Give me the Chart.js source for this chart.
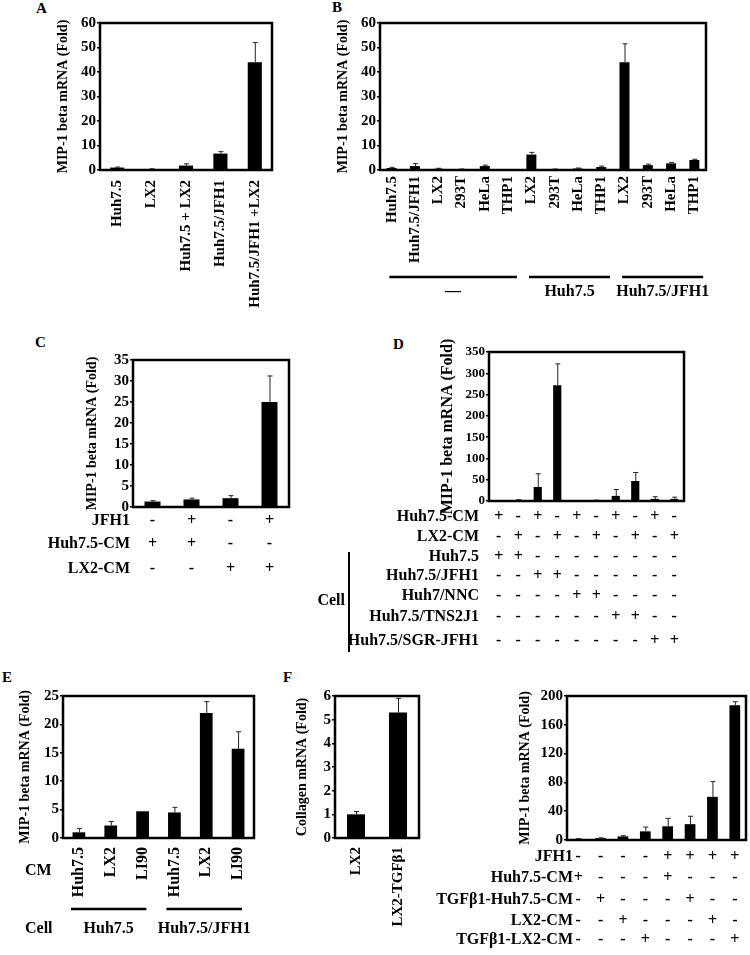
<!DOCTYPE html>
<html><head><meta charset="utf-8">
<script src="https://cdn.jsdelivr.net/npm/chart.js@4.4.1/dist/chart.umd.min.js"></script>
<style>
html,body{margin:0;padding:0;background:#fff;}
#wrap{position:relative;width:750px;height:955px;overflow:hidden;background:#fff;}
canvas{position:absolute;}
.lbl{position:absolute;font:bold 15px 'Liberation Serif','Times New Roman',serif;color:#000;line-height:1;}
</style></head><body><div id="wrap">
<div class="lbl" style="left:36px;top:1px">A</div>
<div class="lbl" style="left:332px;top:0px">B</div>
<div class="lbl" style="left:35px;top:335px">C</div>
<div class="lbl" style="left:393px;top:337px">D</div>
<div class="lbl" style="left:2px;top:670px">E</div>
<div class="lbl" style="left:283px;top:670px">F</div>
</div>
<script>
const FONT = "'Liberation Serif', 'Times New Roman', serif";

// ---------- Panel A ----------
const aCategories = ['Huh7.5', 'LX2', 'Huh7.5 + LX2', 'Huh7.5/JFH1', 'Huh7.5/JFH1 +LX2'];
const aValues = [1.0, 0.3, 1.8, 6.7, 44];
const aErrors = [0.2, 0.2, 0.7, 0.8, 8];
const aYTicks = [0, 10, 20, 30, 40, 50, 60];

// ---------- Panel B ----------
const bCategories = ['Huh7.5', 'Huh7.5/JFH1', 'LX2', '293T', 'HeLa', 'THP1',
                     'LX2', '293T', 'HeLa', 'THP1',
                     'LX2', '293T', 'HeLa', 'THP1'];
const bValues = [0.8, 1.6, 0.5, 0.3, 1.6, 0.1, 6.3, 0.3, 0.6, 1.2, 44, 2.0, 2.7, 4.1];
const bErrors = [0.3, 1.0, 0.2, 0.1, 0.4, 0.1, 0.9, 0.1, 0.2, 0.4, 7.5, 0.4, 0.3, 0.3];
const bYTicks = [0, 10, 20, 30, 40, 50, 60];
const bGroupLabels = ['—', 'Huh7.5', 'Huh7.5/JFH1'];
const bGroupStart = [0, 6, 10];
const bGroupEnd = [5, 9, 13];

// ---------- Panel C ----------
const cCategories = ['1', '2', '3', '4'];
const cValues = [1.3, 1.8, 2.1, 25];
const cErrors = [0.2, 0.3, 0.6, 6.2];
const cYTicks = [0, 5, 10, 15, 20, 25, 30, 35];
const cRows = ['JFH1', 'Huh7.5-CM', 'LX2-CM'];
const cCells = [['-', '+', '-', '+'], ['+', '+', '-', '-'], ['-', '-', '+', '+']];

// ---------- Panel D ----------
const dCategories = ['1', '2', '3', '4', '5', '6', '7', '8', '9', '10'];
const dValues = [0.8, 2, 33, 272, 0.5, 1.5, 12, 47, 5, 5];
const dErrors = [0.3, 1, 31, 50, 0.2, 0.5, 15, 20, 5, 4];
const dYTicks = [0, 50, 100, 150, 200, 250, 300, 350];
const dRows = ['Huh7.5-CM', 'LX2-CM', 'Huh7.5', 'Huh7.5/JFH1', 'Huh7/NNC', 'Huh7.5/TNS2J1', 'Huh7.5/SGR-JFH1'];
const dCells = [
  ['+', '-', '+', '-', '+', '-', '+', '-', '+', '-'],
  ['-', '+', '-', '+', '-', '+', '-', '+', '-', '+'],
  ['+', '+', '-', '-', '-', '-', '-', '-', '-', '-'],
  ['-', '-', '+', '+', '-', '-', '-', '-', '-', '-'],
  ['-', '-', '-', '-', '+', '+', '-', '-', '-', '-'],
  ['-', '-', '-', '-', '-', '-', '+', '+', '-', '-'],
  ['-', '-', '-', '-', '-', '-', '-', '-', '+', '+']
];

// ---------- Panel E ----------
const eCategories = ['Huh7.5', 'LX2', 'LI90', 'Huh7.5', 'LX2', 'LI90'];
const eValues = [1.0, 2.2, 4.7, 4.5, 22, 15.7];
const eErrors = [0.7, 0.7, 0, 0.9, 2, 3];
const eYTicks = [0, 5, 10, 15, 20, 25];
const eGroupLabels = ['Huh7.5', 'Huh7.5/JFH1'];
const eGroupStart = [0, 3];
const eGroupEnd = [2, 5];

// ---------- Panel F (left) ----------
const fCategories = ['LX2', 'LX2-TGFβ1'];
const fValues = [1.0, 5.3];
const fErrors = [0.12, 0.6];
const fYTicks = [0, 1, 2, 3, 4, 5, 6];

// ---------- Panel F (right) ----------
const gCategories = ['1', '2', '3', '4', '5', '6', '7', '8'];
const gValues = [1.5, 2.5, 5, 12, 19, 22, 60, 187];
const gErrors = [0.3, 0.5, 1, 6, 11, 11, 21, 5];
const gYTicks = [0, 40, 80, 120, 160, 200];
const gRows = ['JFH1', 'Huh7.5-CM', 'TGFβ1-Huh7.5-CM', 'LX2-CM', 'TGFβ1-LX2-CM'];
const gCells = [
  ['-', '-', '-', '-', '+', '+', '+', '+'],
  ['+', '-', '-', '-', '+', '-', '-', '-'],
  ['-', '+', '-', '-', '-', '+', '-', '-'],
  ['-', '-', '+', '-', '-', '-', '+', '-'],
  ['-', '-', '-', '+', '-', '-', '-', '+']
];

// ---------- helpers ----------
const PANELS = {};

const errorBars = {
  id: 'errorBars',
  afterDatasetsDraw(chart) {
    const p = PANELS[chart.canvas.id];
    if (!p || !p.errors) return;
    const meta = chart.getDatasetMeta(0);
    const y = chart.scales.y;
    const ctx = chart.ctx;
    ctx.save();
    ctx.strokeStyle = '#222';
    ctx.lineWidth = 1;
    meta.data.forEach((bar, i) => {
      const v = p.values[i];
      const e = p.errors[i];
      if (!e) return;
      const yTop = y.getPixelForValue(v + e);
      const yBar = y.getPixelForValue(v);
      ctx.beginPath();
      ctx.moveTo(bar.x + 0.5, yBar);
      ctx.lineTo(bar.x + 0.5, yTop);
      ctx.moveTo(bar.x + 0.5 - 2.5, yTop);
      ctx.lineTo(bar.x + 0.5 + 2.5, yTop);
      ctx.stroke();
    });
    ctx.restore();
  }
};

const frame = {
  id: 'frame',
  afterDatasetsDraw(chart) {
    const ctx = chart.ctx, a = chart.chartArea;
    ctx.save();
    ctx.lineWidth = 2.5;
    ctx.strokeStyle = '#000';
    ctx.strokeRect(a.left, a.top, a.right - a.left, a.bottom - a.top);
    ctx.restore();
  }
};

const extras = {
  id: 'extras',
  afterDraw(chart) {
    const p = PANELS[chart.canvas.id];
    if (!p || !p.extra) return;
    const ctx = chart.ctx;
    const xs = chart.scales.x;
    const col = i => xs.getPixelForValue(i) + p.x;
    const cw = (chart.chartArea.right - chart.chartArea.left) / p.categories.length;
    ctx.save();
    ctx.translate(-p.x, -p.y);
    ctx.fillStyle = '#000';
    ctx.strokeStyle = '#000';
    p.extra(ctx, col, cw);
    ctx.restore();
  }
};

function drawTable(ctx, col, rows, cells, rowYs, labelRight, size) {
  ctx.font = `bold ${size}px ${FONT}`;
  ctx.textBaseline = 'middle';
  rows.forEach((r, ri) => {
    ctx.textAlign = 'right';
    ctx.fillText(r, labelRight, rowYs[ri]);
    ctx.textAlign = 'center';
    cells[ri].forEach((c, ci) => ctx.fillText(c, col(ci), rowYs[ri]));
  });
}

function drawGroups(ctx, col, cw, labels, starts, ends, lineY, textY, ext0, ext1, size) {
  ctx.lineWidth = 2.5;
  ctx.font = `bold ${size}px ${FONT}`;
  ctx.textAlign = 'center';
  ctx.textBaseline = 'middle';
  labels.forEach((lab, gi) => {
    const x0 = col(starts[gi]) - ext0 * cw;
    const x1 = col(ends[gi]) + ext1 * cw;
    ctx.beginPath();
    ctx.moveTo(x0, lineY);
    ctx.lineTo(x1, lineY);
    ctx.stroke();
    ctx.fillText(lab, (x0 + x1) / 2, textY);
  });
}

function makePanel(p) {
  const cv = document.createElement('canvas');
  cv.id = p.id;
  cv.width = p.w; cv.height = p.h;
  cv.style.left = p.x + 'px'; cv.style.top = p.y + 'px';
  cv.style.width = p.w + 'px'; cv.style.height = p.h + 'px';
  document.getElementById('wrap').appendChild(cv);
  PANELS[p.id] = p;
  const scaleLeft = p.titleX - p.titleSize * 1.2 / 2;
  const padL = scaleLeft - p.x;
  const yW = p.box.l - scaleLeft;
  const padT = p.box.t - p.y;
  const padR = p.x + p.w - p.box.r;
  const xH = p.y + p.h - p.box.b;
  const ticks = p.yTicks;
  new Chart(cv, {
    type: 'bar',
    data: {
      labels: p.categories,
      datasets: [{
        data: p.values, backgroundColor: '#000', borderWidth: 0,
        barPercentage: p.barPct, categoryPercentage: 1
      }]
    },
    options: {
      responsive: false, animation: false, devicePixelRatio: 1,
      layout: { padding: { left: padL, top: padT, right: padR, bottom: 0 }, autoPadding: false },
      plugins: { legend: { display: false }, tooltip: { enabled: false } },
      scales: {
        x: {
          grid: { display: false, drawTicks: false },
          border: { display: false },
          ticks: {
            display: !!p.showX, autoSkip: false, minRotation: 90, maxRotation: 90,
            padding: p.xPad || 6, color: '#000',
            font: { family: FONT, weight: 'bold', size: p.xSize || 15 }
          },
          afterFit(s) { s.height = xH; }
        },
        y: {
          min: ticks[0], max: ticks[ticks.length - 1],
          grid: { display: true, drawOnChartArea: false, drawTicks: true, tickLength: 3, color: '#000', lineWidth: 1.5 },
          border: { display: false },
          ticks: {
            autoSkip: false, padding: 1, color: '#000',
            font: { family: FONT, weight: 'bold', size: p.tickSize }
          },
          afterBuildTicks(s) { s.ticks = ticks.map(v => ({ value: v })); },
          title: {
            display: true, text: p.title, padding: 0, color: '#000',
            font: { family: FONT, weight: 'bold', size: p.titleSize }
          },
          afterFit(s) { s.width = yW; }
        }
      }
    },
    plugins: [errorBars, frame, extras]
  });
}

const MIP = 'MIP-1 beta mRNA (Fold)';

makePanel({
  id: 'pA', x: 50, y: 0, w: 235, h: 310, box: { l: 100, t: 23, r: 272, b: 170 },
  categories: aCategories, values: aValues, errors: aErrors, yTicks: aYTicks,
  title: MIP, titleX: 63, titleSize: 14, tickSize: 15, showX: true, xSize: 15, xPad: 10, barPct: 0.41
});

makePanel({
  id: 'pB', x: 330, y: 0, w: 390, h: 310, box: { l: 380, t: 23, r: 706, b: 170 },
  categories: bCategories, values: bValues, errors: bErrors, yTicks: bYTicks,
  title: MIP, titleX: 343, titleSize: 14, tickSize: 15, showX: true, xSize: 15, xPad: 6, barPct: 0.43,
  extra(ctx, col, cw) {
    drawGroups(ctx, col, cw, bGroupLabels, bGroupStart, bGroupEnd, 277, 292, 0.1, 0.38, 16);
  }
});

makePanel({
  id: 'pC', x: 20, y: 330, w: 285, h: 255, box: { l: 133, t: 360, r: 289, b: 507 },
  categories: cCategories, values: cValues, errors: cErrors, yTicks: cYTicks,
  title: MIP, titleX: 92, titleSize: 14, tickSize: 15, showX: false, barPct: 0.41,
  extra(ctx, col) {
    drawTable(ctx, col, cRows, cCells, [521, 544, 569], 130, 16);
  }
});

makePanel({
  id: 'pD', x: 300, y: 300, w: 400, h: 360, box: { l: 489, t: 352, r: 684, b: 501 },
  categories: dCategories, values: dValues, errors: dErrors, yTicks: dYTicks,
  title: MIP, titleX: 448, titleSize: 16, tickSize: 13, showX: false, barPct: 0.42,
  extra(ctx, col) {
    drawTable(ctx, col, dRows, dCells, [517, 537, 557, 576, 596, 617, 641], 479, 16);
    ctx.textAlign = 'right';
    ctx.fillText('Cell', 345, 601);
    ctx.lineWidth = 2;
    ctx.beginPath();
    ctx.moveTo(349, 552);
    ctx.lineTo(349, 652);
    ctx.stroke();
  }
});

makePanel({
  id: 'pE', x: 0, y: 670, w: 270, h: 280, box: { l: 63, t: 696, r: 254, b: 838 },
  categories: eCategories, values: eValues, errors: eErrors, yTicks: eYTicks,
  title: MIP, titleX: 25, titleSize: 14, tickSize: 15, showX: true, xSize: 16, xPad: 9, barPct: 0.4,
  extra(ctx, col, cw) {
    ctx.font = `bold 16px ${FONT}`;
    ctx.textAlign = 'left';
    ctx.textBaseline = 'middle';
    ctx.fillText('CM', 25, 871);
    ctx.fillText('Cell', 25, 929);
    drawGroups(ctx, col, cw, eGroupLabels, eGroupStart, eGroupEnd, 909, 929, 0.25, 0.12, 16);
  }
});

makePanel({
  id: 'pF', x: 288, y: 670, w: 145, h: 280, box: { l: 335, t: 696, r: 419, b: 838 },
  categories: fCategories, values: fValues, errors: fErrors, yTicks: fYTicks,
  title: 'Collagen mRNA (Fold)', titleX: 302, titleSize: 14, tickSize: 15, showX: true, xSize: 15, xPad: 9, barPct: 0.43
});

makePanel({
  id: 'pG', x: 420, y: 670, w: 330, h: 285, box: { l: 567, t: 696, r: 746, b: 840 },
  categories: gCategories, values: gValues, errors: gErrors, yTicks: gYTicks,
  title: MIP, titleX: 525, titleSize: 14, tickSize: 15, showX: false, barPct: 0.48,
  extra(ctx, col) {
    drawTable(ctx, col, gRows, gCells, [857, 878, 900, 921, 940], 573, 16);
  }
});
</script>
</body></html>
